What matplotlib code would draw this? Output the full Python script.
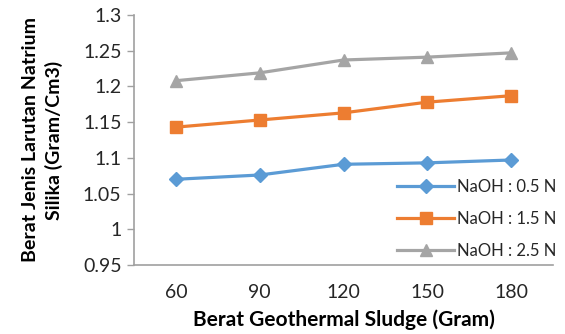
import matplotlib

matplotlib.use("Agg")
import matplotlib.pyplot as plt
import numpy as np

# Berat geothermal sludge (gram) vs berat jenis larutan natrium silika
SLUDGE = ["60", "90", "120", "150", "180"]
NAOH_05 = [1.070, 1.076, 1.091, 1.093, 1.097]
NAOH_15 = [1.143, 1.153, 1.163, 1.178, 1.187]
NAOH_25 = [1.208, 1.219, 1.237, 1.241, 1.247]
SERIES = [
    ("NaOH : 0.5 N", NAOH_05, "#5B9BD5", "D", 7),
    ("NaOH : 1.5 N", NAOH_15, "#ED7D31", "s", 8.5),
    ("NaOH : 2.5 N", NAOH_25, "#A5A5A5", "^", 9),
]
YTICKS = [0.95, 1.0, 1.05, 1.1, 1.15, 1.2, 1.25, 1.3]

plt.rcParams["font.family"] = ["Lato", "DejaVu Sans"]

fig = plt.figure(figsize=(5.65, 3.34), dpi=100)
ax = fig.add_axes([134 / 565, 1 - 265 / 334, 419 / 565, 250 / 334])

x = np.arange(len(SLUDGE))
for label, vals, color, marker, ms in SERIES:
    ax.plot(x, vals, "-", marker=marker, ms=ms, lw=2.3, color=color, label=label)

ax.set_xlim(-0.5, len(SLUDGE) - 0.5)
ax.set_ylim(0.95, 1.3)
ax.set_xticks(x)
ax.set_xticklabels(SLUDGE)
ax.set_yticks(YTICKS)
ax.set_yticklabels([f"{v:g}" for v in YTICKS])
ax.tick_params(axis="x", length=0, labelsize=14, pad=14, colors="#262626")
ax.tick_params(axis="y", length=5, width=1, color="#A0A0A0", labelsize=14, pad=4,
               labelcolor="#262626")
for s in ("top", "right"):
    ax.spines[s].set_visible(False)
for s in ("left", "bottom"):
    ax.spines[s].set_color("#A0A0A0")
    ax.spines[s].set_linewidth(1.2)

ax.set_xlabel("Berat Geothermal Sludge (Gram)", fontsize=15, fontweight="bold",
              labelpad=6)
ax.set_ylabel("Berat Jenis Larutan Natrium\nSilika (Gram/Cm3)", fontsize=14,
              fontweight="bold", labelpad=14, linespacing=1.45)

ax.legend(loc="lower right", bbox_to_anchor=(1.045, -0.035), frameon=False, fontsize=12,
          handlelength=3.4, handletextpad=0.2, labelspacing=0.95, labelcolor="#262626")

fig.savefig("out.png", dpi=100)
